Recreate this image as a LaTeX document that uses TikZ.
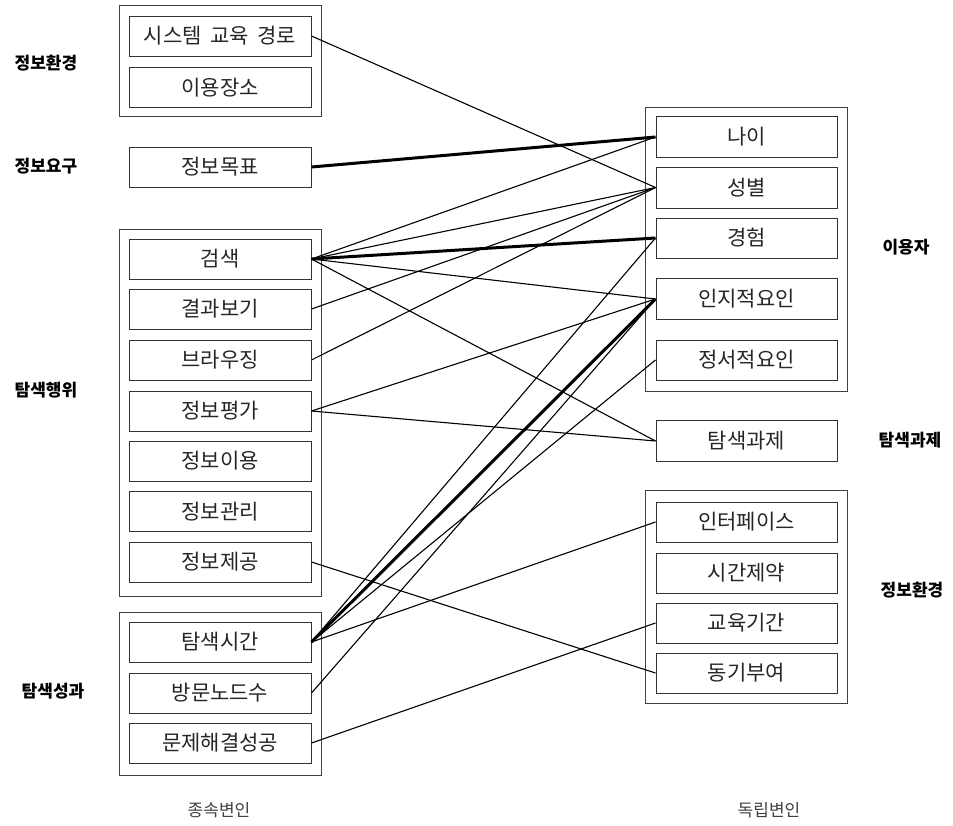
\documentclass[tikz,border=0pt]{standalone}
\usepackage{fontspec}
\setmainfont{Noto Sans CJK KR}
\begin{document}
\begin{tikzpicture}[x=1pt,y=-1pt,
  item/.style={draw=black!80,line width=1pt,rectangle,minimum height=40pt,inner sep=0pt,font=\fontsize{21}{21}\selectfont,text=black!85},
  litem/.style={item,minimum width=182pt},
  ritem/.style={item,minimum width=181pt},
  group/.style={draw=black!75,line width=1pt},
  cat/.style={font=\fontsize{17}{17}\selectfont\bfseries,text=black},
  foot/.style={font=\fontsize{17}{17}\selectfont,text=black!75},
  thin/.style={line width=1.1pt,black},
  thick/.style={line width=3pt,black}]
\useasboundingbox (0,0) rectangle (953,825);
% outer group boxes
\draw[group] (119,5) rectangle (321,116);
\draw[group] (119,229) rectangle (321,596);
\draw[group] (119,612) rectangle (321,775);
\draw[group] (645,107) rectangle (847,391);
\draw[group] (645,490) rectangle (847,703);
% left items
\node[litem] (sys) at (220,36) {시스템\hspace{0.4em}교육\hspace{0.4em}경로};
\node[litem] (place) at (220,87.5) {이용장소};
\node[litem] (goal) at (220,167) {정보목표};
\node[litem] (search) at (220,259) {검색};
\node[litem] (result) at (220,309) {결과보기};
\node[litem] (browse) at (220,360) {브라우징};
\node[litem] (eval) at (220,411) {정보평가};
\node[litem] (use) at (220,461) {정보이용};
\node[litem] (manage) at (220,511.5) {정보관리};
\node[litem] (provide) at (220,562) {정보제공};
\node[litem] (time) at (220,642) {탐색시간};
\node[litem] (visits) at (220,693) {방문노드수};
\node[litem] (success) at (220,743) {문제해결성공};
% right items
\node[ritem,minimum height=41pt] (age) at (746.5,137) {나이};
\node[ritem,minimum height=41pt] (sex) at (746.5,187.5) {성별};
\node[ritem] (exp) at (746.5,238) {경험};
\node[ritem,minimum height=41pt] (cog) at (746.5,299) {인지적요인};
\node[ritem] (emo) at (746.5,360) {정서적요인};
\node[ritem,minimum height=41pt] (task) at (746.5,441) {탐색과제};
\node[ritem] (ui) at (746.5,522) {인터페이스};
\node[ritem] (timec) at (746.5,573) {시간제약};
\node[ritem] (edu) at (746.5,623) {교육기간};
\node[ritem] (motiv) at (746.5,673) {동기부여};
% category labels
\node[cat] (c1) at (46,63) {정보환경};
\node[cat] (c2) at (46,166) {정보요구};
\node[cat] (c3) at (46,390) {탐색행위};
\node[cat] (c4) at (53,691) {탐색성과};
\node[cat] (c5) at (906,247) {이용자};
\node[cat] (c6) at (910,440) {탐색과제};
\node[cat] (c7) at (912,590) {정보환경};
\node[foot] (f1) at (219,810) {종속변인};
\node[foot] (f2) at (769,810) {독립변인};
% connectors
\draw[thin] (sys.east) -- (sex.west);
\draw[thick] (goal.east) -- (age.west);
\draw[thin] (search.east) -- (age.west);
\draw[thin] (search.east) -- (sex.west);
\draw[thick] (search.east) -- (exp.west);
\draw[thin] (search.east) -- (cog.west);
\draw[thin] (search.east) -- (task.west);
\draw[thin] (result.east) -- (sex.west);
\draw[thin] (browse.east) -- (sex.west);
\draw[thin] (eval.east) -- (cog.west);
\draw[thin] (eval.east) -- (task.west);
\draw[thin] (provide.east) -- (motiv.west);
\draw[thin] (time.east) -- (exp.west);
\draw[thick] (time.east) -- (cog.west);
\draw[thin] (time.east) -- (emo.west);
\draw[thin] (time.east) -- (ui.west);
\draw[thin] (visits.east) -- (cog.west);
\draw[thin] (success.east) -- (edu.west);
\end{tikzpicture}
\end{document}
